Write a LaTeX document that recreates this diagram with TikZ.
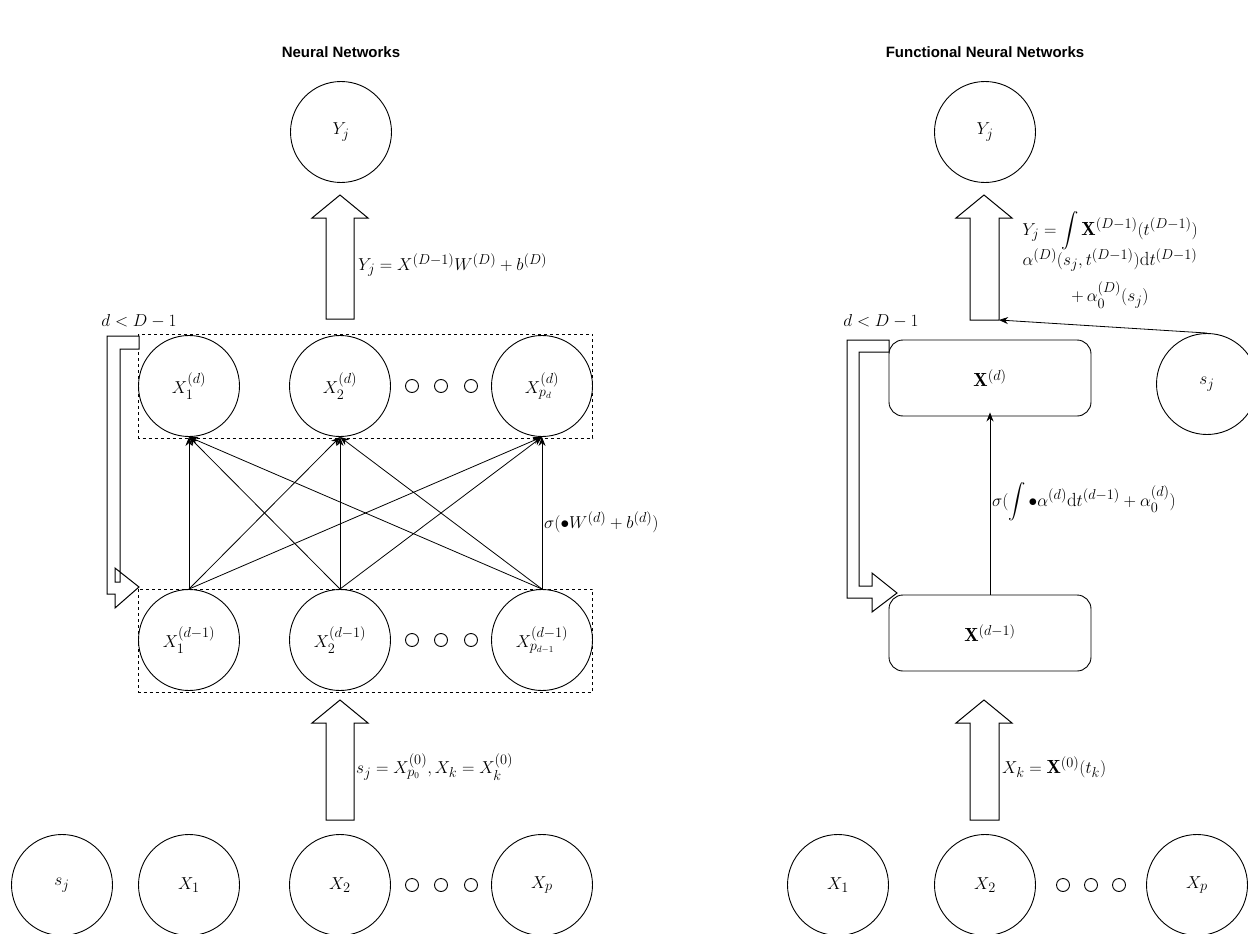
\documentclass[tikz,border=0pt]{standalone}
\usepackage{fontspec}
\usepackage{amsmath}
\setsansfont{Liberation Sans}
\usetikzlibrary{arrows.meta}
\begin{document}
\begin{tikzpicture}[x=1pt,y=-1pt,
  every node/.style={font=\fontsize{19}{23}\selectfont},
  neuron/.style={circle,draw,line width=0.9pt,minimum size=101pt,inner sep=0pt},
  dotc/.style={circle,draw,line width=0.9pt,minimum size=13pt,inner sep=0pt},
  layerbox/.style={draw,dashed,line width=0.8pt},
  fbox/.style={draw,rounded corners=14pt,line width=0.9pt,minimum width=202pt,minimum height=76pt},
  title/.style={font=\fontsize{15}{18}\selectfont\sffamily\bfseries},
  hollow/.style={draw,line width=1pt,fill=white,line join=miter},
  conn/.style={line width=0.8pt,-{Stealth[length=9pt,width=7pt]}},
  lbl/.style={inner sep=1pt}
]
\useasboundingbox (0,0) rectangle (1248,934);
% ---------------- titles
\node[title] (t1) at (341,52) {Neural Networks};
\node[title] (t2) at (985,52) {Functional Neural Networks};

% ================= LEFT PANEL
\node[neuron] (Y) at (341,132) {$Y_j$};
% output hollow arrow
\draw[hollow] (326,319) -- (326,218) -- (312,218) -- (340,195) -- (368,218) -- (354,218) -- (354,319) -- cycle;
\node[lbl,anchor=west] (ly) at (357,265) {$Y_j = X^{(D-1)}W^{(D)} + b^{(D)}$};

% top layer
\draw[layerbox] (138.5,334) rectangle (592.5,438);
\node[neuron] (a1) at (189,386) {$X_1^{(d)}$};
\node[neuron] (a2) at (340,386) {$X_2^{(d)}$};
\node[neuron] (a3) at (542,386) {$X_{p_d}^{(d)}$};
\node[dotc] (ad1) at (412,386) {};
\node[dotc] (ad2) at (441,386) {};
\node[dotc] (ad3) at (471,386) {};

% bottom layer
\draw[layerbox] (138.5,589) rectangle (592.5,692);
\node[neuron] (b1) at (189,640) {$X_1^{(d-1)}$};
\node[neuron] (b2) at (340,640) {$X_2^{(d-1)}$};
\node[neuron] (b3) at (542,640) {$X_{p_{d-1}}^{(d-1)}$};
\node[dotc] (bd1) at (412,640) {};
\node[dotc] (bd2) at (441,640) {};
\node[dotc] (bd3) at (471,640) {};

\foreach \i in {b1,b2,b3}{
  \foreach \j in {a1,a2,a3}{
    \draw[conn] (\i.north) -- (\j.south);
  }
}
\node[lbl,anchor=west] (ls) at (543,522) {$\sigma(\bullet W^{(d)} + b^{(d)})$};

% feedback hollow arrow
\draw[hollow] (139,336) -- (107,336) -- (107,594) -- (115,594) -- (115,608) -- (139,587) -- (115,568) -- (115,582) -- (120,582) -- (120,349) -- (139,349) -- cycle;
\node[lbl] (fl) at (139,321) {$d < D-1$};

% input hollow arrow
\draw[hollow] (326,820) -- (326,723) -- (312,723) -- (340,700) -- (368,723) -- (354,723) -- (354,820) -- cycle;
\node[lbl,anchor=west] (li) at (355,767) {$s_j = X_{p_0}^{(0)}, X_k = X_k^{(0)}$};

% inputs
\node[neuron] (i0) at (62,885) {$s_j$};
\node[neuron] (i1) at (189,885) {$X_1$};
\node[neuron] (i2) at (340,885) {$X_2$};
\node[neuron] (i3) at (542,885) {$X_p$};
\node[dotc] (id1) at (412,885) {};
\node[dotc] (id2) at (441,885) {};
\node[dotc] (id3) at (471,885) {};

% ================= RIGHT PANEL
\node[neuron] (RY) at (985,132) {$Y_j$};
\draw[hollow] (970,320) -- (970,218) -- (956,218) -- (984,195) -- (1012,218) -- (999,218) -- (999,320) -- cycle;
\coordinate (rin) at (999,320);
\node[lbl,align=center] (rly) at (1110,260) {$Y_j = \displaystyle\int \mathbf{X}^{(D-1)}(t^{(D-1)})$\\[-3pt]
  $\alpha^{(D)}(s_j,t^{(D-1)})\mathrm{d}t^{(D-1)}$\\[9pt]
  $+\,\alpha_0^{(D)}(s_j)$};

\node[neuron] (rs) at (1207,384) {$s_j$};
\draw[conn] (rs.north) -- (rin);

\node[fbox] (Xd) at (990,378) {$\mathbf{X}^{(d)}$};
\node[fbox] (Xd1) at (990,633) {$\mathbf{X}^{(d-1)}$};
\draw[conn] (Xd1.north) -- ([yshift=4pt]Xd.south);
\node[lbl,anchor=west] (rls) at (991,502) {$\sigma(\displaystyle\int \bullet\alpha^{(d)}\mathrm{d}t^{(d-1)} + \alpha_0^{(d)})$};

\draw[hollow] (889,340) -- (847,340) -- (847,598) -- (872,598) -- (872,612) -- (897,593) -- (872,573) -- (872,586) -- (859,586) -- (859,352) -- (889,352) -- cycle;
\node[lbl] (rfl) at (881,321) {$d < D-1$};

\draw[hollow] (970,820) -- (970,723) -- (956,723) -- (984,700) -- (1012,723) -- (999,723) -- (999,820) -- cycle;
\node[lbl,anchor=west] (rli) at (1001,767) {$X_k = \mathbf{X}^{(0)}(t_k)$};

\node[neuron] (r1) at (838,885) {$X_1$};
\node[neuron] (r2) at (985,885) {$X_2$};
\node[neuron] (r3) at (1197,885) {$X_p$};
\node[dotc] (rd1) at (1063,885) {};
\node[dotc] (rd2) at (1091,885) {};
\node[dotc] (rd3) at (1119,885) {};
\end{tikzpicture}
\end{document}
